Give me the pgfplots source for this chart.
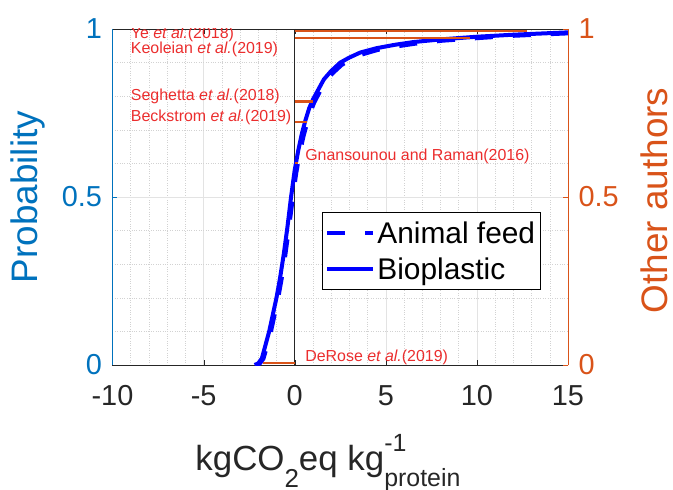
\documentclass[border=0pt]{standalone}
\usepackage{pgfplots}
\pgfplotsset{compat=1.18}
\usepackage{fontspec}
\setmainfont{Liberation Sans}
\definecolor{mblue}{RGB}{0,114,189}
\definecolor{morange}{RGB}{217,83,25}
\definecolor{ared}{RGB}{235,45,45}
\definecolor{curve}{RGB}{0,0,255}
\definecolor{axgray}{RGB}{38,38,38}

\begin{document}
\begin{tikzpicture}
\tikzset{note/.style={anchor=west, ared, font=\fontsize{16}{19}\selectfont, inner sep=0pt}}
\pgfplotsset{
  common/.style={
    scale only axis, width=455.5bp, height=336bp,
    xmin=-10, xmax=15, ymin=0, ymax=1,
    tick align=inside, major tick length=5bp, minor tick length=0pt,
    tick label style={font=\fontsize{29}{34}\selectfont},
    ytick={0,0.5,1}, yticklabels={0,0.5,1},
  },
}
\begin{axis}[common, name=ax,
  axis x line*=box, axis y line*=left,
  x axis line style={axgray, line width=0.6bp},
  y axis line style={mblue, line width=0.6bp},
  xtick style={axgray}, ytick style={mblue},
  xtick={-10,-5,0,5,10,15}, xticklabels={-10,-5,0,5,10,15},
  xticklabel style={axgray, yshift=-17bp}, yticklabel style={mblue, xshift=-7bp},
  minor x tick num=4, minor y tick num=4,
  grid=both,
  major grid style={gray!22, line width=0.5bp},
  minor grid style={gray!35, dotted, line width=0.5bp},
  xlabel={kgCO\raisebox{-0.48em}{\fontsize{26}{30}\selectfont 2}eq
    kg\rlap{\raisebox{0.55em}{\fontsize{25}{30}\selectfont -1}}%
    \raisebox{-0.45em}{\fontsize{25}{30}\selectfont protein}},
  xlabel style={axgray, font=\fontsize{35}{42}\selectfont,
    at={(axis description cs:0.473,-0.315)}, anchor=base},
  ylabel={Probability},
  ylabel style={mblue, font=\fontsize{37}{44}\selectfont,
    at={(axis description cs:-0.185,0.5)}, anchor=center},
  legend style={at={(0.46,0.455)}, anchor=north west, draw=black,
    line width=0.6bp, font=\fontsize{30}{34}\selectfont,
    inner xsep=3bp, inner ysep=7bp, row sep=9bp},
  legend cell align=left,
  legend image code/.code={\draw[#1] (0bp,0bp) -- (46bp,0bp);},
]
\addplot[axgray, line width=0.8bp, forget plot] coordinates {(0,0) (0,1)};
\addplot[curve, line width=4bp, dash pattern=on 18bp off 20bp] coordinates {
(-2.12,0) (-1.92,0.004) (-1.72,0.018) (-1.52,0.055) (-1.32,0.095) (-1.12,0.145)
(-0.92,0.195) (-0.72,0.255) (-0.52,0.325) (-0.32,0.405) (-0.12,0.49) (0.08,0.57)
(0.28,0.63) (0.48,0.68) (0.68,0.72) (0.88,0.755) (1.08,0.782) (1.38,0.813)
(1.68,0.843) (2.08,0.868) (2.58,0.893) (3.08,0.909) (3.68,0.924) (4.58,0.938)
(5.58,0.948) (6.58,0.956) (8.08,0.965) (10.08,0.973) (12.08,0.98) (15,0.987)
};
\addlegendentry{Animal feed}
\addplot[curve, line width=4bp] coordinates {
(-2.2,0) (-2.0,0.005) (-1.8,0.02) (-1.6,0.06) (-1.4,0.1) (-1.2,0.15)
(-1.0,0.2) (-0.8,0.26) (-0.6,0.33) (-0.4,0.41) (-0.2,0.5) (0,0.58)
(0.2,0.64) (0.4,0.69) (0.6,0.73) (0.8,0.765) (1.0,0.79) (1.3,0.82)
(1.6,0.85) (2.0,0.875) (2.5,0.9) (3.0,0.915) (3.6,0.93) (4.5,0.943)
(5.5,0.953) (6.5,0.961) (8,0.969) (10,0.977) (12,0.983) (15,0.99)
};
\addlegendentry{Bioplastic}
\end{axis}

\begin{axis}[common,
  axis y line*=right, axis x line=none,
  y axis line style={morange, line width=0.6bp},
  ytick style={morange}, yticklabel style={morange, xshift=7bp},
  ylabel={Other authors},
  ylabel style={morange, font=\fontsize{37}{44}\selectfont,
    at={(axis description cs:1.19,0.49)}, anchor=center},
]
\addplot[morange, line width=2.2bp] coordinates {(0,0.995) (12.75,0.995)};
\addplot[morange, line width=2.2bp] coordinates {(0,0.973) (9.6,0.973)};
\addplot[morange, line width=2.2bp] coordinates {(0,0.784) (1.0,0.784)};
\addplot[morange, line width=2.2bp] coordinates {(0,0.723) (0.66,0.723)};
\addplot[morange, line width=2.2bp] coordinates {(0,0.601) (0.2,0.601)};
\addplot[morange, line width=2.2bp] coordinates {(-1.74,0.007) (0,0.007)};
\node[note] at (axis cs:-9,0.984) {Ye \textit{et al.}(2018)};
\node[note] at (axis cs:-9,0.940) {Keoleian \textit{et al.}(2019)};
\node[note] at (axis cs:-9,0.800) {Seghetta \textit{et al.}(2018)};
\node[note] at (axis cs:-9,0.737) {Beckstrom \textit{et al.}(2019)};
\node[note] at (axis cs:0.57,0.620) {Gnansounou and Raman(2016)};
\node[note] at (axis cs:0.57,0.024) {DeRose \textit{et al.}(2019)};
\end{axis}
\pgfresetboundingbox
\path[use as bounding box] ([shift={(-112.5bp,-125bp)}]ax.south west)
  rectangle ([shift={(105bp,29bp)}]ax.north east);
\end{tikzpicture}
\end{document}
